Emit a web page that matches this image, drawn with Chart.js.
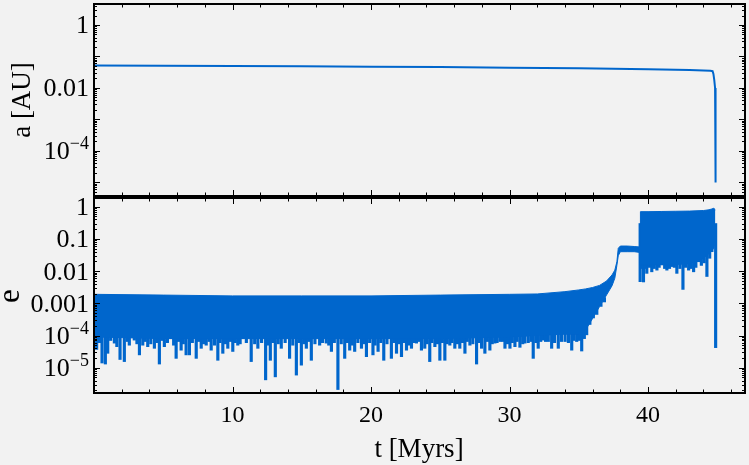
<!DOCTYPE html>
<html>
<head>
<meta charset="utf-8">
<script src="https://cdn.jsdelivr.net/npm/chart.js@4.4.0/dist/chart.umd.min.js"></script>
<style>
  html, body { margin: 0; padding: 0; background: #f2f2f2; }
  #wrap { position: relative; width: 749px; height: 465px; }
  canvas { position: absolute; left: 0; top: 0; }
</style>
</head>
<body>
<div id="wrap">
  <canvas id="topChart" width="749" height="465"></canvas>
  <canvas id="bottomChart" width="749" height="465"></canvas>
</div>
<script>
// semi-major axis a(t)
const A_T = [0, 5, 10, 15, 20, 25, 30, 35, 40, 43, 44, 44.5, 44.66, 44.72, 44.78, 44.84, 44.87, 44.88];
const A_VALUES = [0.052, 0.051, 0.050, 0.049, 0.047, 0.046, 0.044, 0.042, 0.039, 0.037, 0.036, 0.035, 0.034, 0.028, 0.018, 0.010, 0.007, 0.00001];

// eccentricity band: upper / lower envelope of the fast oscillation
const E_T = [0, 5, 10, 15, 20, 25, 30, 32, 34, 35, 35.5, 36, 36.5, 37, 37.4, 37.6, 37.75, 37.85, 38, 38.5, 39, 39.42, 39.45, 40, 41, 42, 43, 44, 44.4, 44.6, 44.75, 44.86];
const E_UPPER = [0.0019, 0.0018, 0.0017, 0.0017, 0.0017, 0.0018, 0.0019, 0.00195, 0.0023, 0.0026, 0.0028, 0.0031, 0.0036, 0.0049, 0.0076, 0.0107, 0.0195, 0.051, 0.06, 0.06, 0.058, 0.056, 0.70, 0.70, 0.71, 0.72, 0.73, 0.76, 0.80, 0.85, 0.89, 0.80];
const E_LOWER = [0.00009, 0.00008, 0.00008, 0.00008, 0.00008, 0.00008, 0.00009, 0.0001, 0.00011, 0.00011, 0.00015, 0.00034, 0.00079, 0.0018, 0.0035, 0.006, 0.015, 0.03, 0.04, 0.04, 0.04, 0.038, 0.016, 0.016, 0.016, 0.016, 0.017, 0.025, 0.035, 0.045, 0.05, 0.1];

// individual minima of e below the band (deep ones first, then the short ragged ones)
const DIP_T = [0.19, 0.58, 0.82, 0.99, 1.47, 1.88, 2.19, 2.55, 2.91, 3.28, 3.52, 3.88, 4.36, 4.72, 5.08, 5.57, 5.93, 6.29, 6.65, 6.89,
  7.38, 7.74, 8.10, 8.46, 8.94, 9.30, 9.66, 10.02, 10.38, 10.75, 11.35, 11.83, 12.39, 12.73, 13.09, 13.52, 14.12, 14.61, 14.97, 15.33,
  15.69, 16.29, 16.77, 17.14, 17.61, 18.10, 18.46, 18.82, 19.31, 19.67, 20.14, 20.51, 20.92, 21.47, 21.84, 22.20, 22.56, 22.92, 23.28, 23.64,
  23.88, 24.24, 24.61, 24.97, 25.33, 25.69, 26.05, 26.41, 26.78, 27.14, 27.62, 27.98, 28.22, 28.58, 28.94, 29.31, 29.67, 30.03, 30.39, 30.75,
  31.11, 31.71, 32.07, 32.44, 32.80, 33.04, 33.52, 34.01, 34.49, 34.85, 35.21, 35.57,
  39.43, 39.67, 39.91, 40.27, 40.64, 41.00, 41.36, 41.72, 42.08, 42.52, 42.93, 43.29, 43.65, 44.25, 44.61, 44.88,
  0.4, 1.2, 1.65, 2.4, 3.1, 3.7, 4.1, 4.55, 4.9, 5.3, 5.75, 6.1, 6.45, 7.1, 7.55, 7.9, 8.3, 8.7, 9.1, 9.5,
  9.85, 10.2, 10.55, 11.0, 11.6, 12.1, 12.55, 12.9, 13.3, 13.8, 14.35, 14.8, 15.15, 15.5, 15.95, 16.5, 16.95, 17.35, 17.85, 18.3,
  18.65, 19.05, 19.5, 19.9, 20.3, 20.7, 21.15, 21.65, 22.05, 22.4, 22.75, 23.1, 23.45, 24.05, 24.4, 24.8, 25.15, 25.5, 25.85, 26.25,
  26.6, 26.95, 27.35, 27.8, 28.4, 28.75, 29.1, 29.5, 29.85, 30.2, 30.55, 30.95, 31.35, 31.55, 31.9, 32.25, 32.6, 33.25, 33.75, 34.25,
  34.65, 35.05, 35.4, 35.8, 36.05, 36.3, 36.6, 36.85,
  39.55, 39.8, 40.1, 40.45, 40.8, 41.2, 41.55, 41.9, 42.3, 42.7, 43.1, 43.45, 43.85, 44.05, 44.45];
const DIP_E = [3.7e-5, 1.4e-5, 1.3e-5, 2.8e-5, 5.8e-5, 1.8e-5, 1.55e-5, 5.0e-5, 7.2e-5, 2.5e-5, 5.0e-5, 4.5e-5, 4.0e-5, 1.3e-5, 4.5e-5, 8.1e-5, 1.95e-5, 3.5e-5, 2.5e-5, 2.5e-5,
  1.95e-5, 4.0e-5, 5.0e-5, 3.5e-5, 1.7e-5, 2.8e-5, 4.0e-5, 3.2e-5, 5.0e-5, 8.1e-5, 1.55e-5, 4.0e-5, 4.2e-6, 1.7e-5, 5.2e-6, 4.0e-5, 1.95e-5, 5.9e-6, 1.2e-5, 4.0e-5,
  1.7e-5, 5.0e-5, 5.8e-5, 3.2e-5, 2.1e-6, 1.95e-5, 3.5e-5, 3.2e-5, 4.0e-5, 2.2e-5, 2.5e-5, 3.2e-5, 1.7e-5, 1.95e-5, 2.8e-5, 2.2e-5, 3.5e-5, 4.0e-5, 5.8e-5, 3.5e-5,
  4.0e-5, 1.55e-5, 4.5e-5, 1.7e-5, 1.7e-5, 5.0e-5, 4.0e-5, 4.0e-5, 2.8e-5, 5.0e-5, 1.3e-5, 4.0e-5, 2.8e-5, 3.5e-5, 5.8e-5, 6.5e-5, 4.0e-5, 4.0e-5, 4.5e-5, 4.3e-5,
  5.8e-5, 1.95e-5, 4.0e-5, 7.2e-5, 6.5e-5, 4.0e-5, 4.0e-5, 6.5e-5, 3.5e-5, 6.5e-5, 3.3e-5, 1.05e-4,
  0.0047, 0.0046, 0.0085, 0.0095, 0.0107, 0.0155, 0.0107, 0.0138, 0.0085, 0.0027, 0.0107, 0.0095, 0.0195, 0.0068, 0.04, 4.2e-5,
  6e-5, 7e-5, 4.5e-5, 6.5e-5, 5.5e-5, 6.5e-5, 5.5e-5, 6e-5, 7e-5, 6e-5, 5e-5, 6.5e-5, 5.5e-5, 6e-5, 6.5e-5, 5.5e-5, 6.5e-5, 5e-5, 6e-5, 5.5e-5,
  6.5e-5, 6e-5, 5.5e-5, 6e-5, 5.5e-5, 6e-5, 5e-5, 6e-5, 5.5e-5, 6e-5, 5e-5, 6e-5, 5.5e-5, 6.5e-5, 5.5e-5, 6e-5, 5e-5, 6e-5, 5.5e-5, 6e-5,
  5e-5, 6e-5, 5.5e-5, 6e-5, 5e-5, 6e-5, 5.5e-5, 6e-5, 5.5e-5, 6e-5, 5e-5, 6e-5, 6.5e-5, 5.5e-5, 6e-5, 5.5e-5, 6e-5, 5.5e-5, 6e-5, 5.5e-5,
  6e-5, 6.5e-5, 5.5e-5, 6e-5, 6.5e-5, 5.5e-5, 6e-5, 6.5e-5, 5.5e-5, 6e-5, 6.5e-5, 5.5e-5, 6e-5, 6.5e-5, 6e-5, 6.5e-5, 6.5e-5, 6e-5, 6.5e-5, 6e-5,
  7e-5, 7e-5, 8e-5, 2.2e-4, 3.5e-4, 4.5e-4, 8e-4, 1.1e-3,
  0.012, 0.012, 0.013, 0.012, 0.013, 0.012, 0.012, 0.013, 0.012, 0.013, 0.012, 0.013, 0.015, 0.018, 0.025];

// ticks
const X_TICKS = [10, 20, 30, 40];
const X_TICK_LABELS = ['10', '20', '30', '40'];
const A_TICKS = [1, 0.01, 1e-4];
const A_TICK_LABELS = ['1', '0.01', '10^\u22124'];
const E_TICKS = [1, 0.1, 0.01, 0.001, 1e-4, 1e-5];
const E_TICK_LABELS = ['1', '0.1', '0.01', '0.001', '10^\u22124', '10^\u22125'];

const BLUE = 'rgb(0,102,204)';
const SERIF = '"Liberation Serif", "DejaVu Serif", serif';

function pts(xs, ys) {
  return xs.map((x, i) => ({ x: x, y: ys[i] }));
}

function drawLabel(ctx, text, xRight, yBase) {
  const parts = text.split('^');
  ctx.textAlign = 'left';
  ctx.textBaseline = 'alphabetic';
  ctx.font = '26px ' + SERIF;
  const w0 = ctx.measureText(parts[0]).width;
  let w1 = 0;
  if (parts[1]) {
    ctx.font = '18px ' + SERIF;
    w1 = ctx.measureText(parts[1]).width;
  }
  const x0 = xRight - w0 - w1;
  ctx.font = '26px ' + SERIF;
  ctx.fillText(parts[0], x0, yBase);
  if (parts[1]) {
    ctx.font = '18px ' + SERIF;
    ctx.fillText(parts[1], x0 + w0, yBase - 10);
  }
}

const frameAxes = {
  id: 'frameAxes',
  afterDraw(chart, args, opts) {
    const { ctx, chartArea: ca, scales: { x, y } } = chart;
    ctx.save();
    ctx.strokeStyle = '#000';
    ctx.fillStyle = '#000';
    ctx.lineWidth = 1;
    ctx.beginPath();
    // x ticks, top and bottom edges, pointing inward
    for (let v = 2; v < x.max; v += 2) {
      const px = Math.round(x.getPixelForValue(v)) + 0.5;
      const len = v % 10 === 0 ? 6 : 3.5;
      ctx.moveTo(px, ca.bottom); ctx.lineTo(px, ca.bottom - len);
      ctx.moveTo(px, ca.top); ctx.lineTo(px, ca.top + len);
    }
    // y ticks, left and right edges
    const lo = Math.floor(Math.log10(y.min)), hi = Math.ceil(Math.log10(y.max));
    for (let d = lo; d <= hi; d++) {
      for (let m = 1; m <= 9; m++) {
        const v = m * Math.pow(10, d);
        if (v < y.min || v > y.max) continue;
        const py = Math.round(y.getPixelForValue(v)) + 0.5;
        const len = m === 1 ? 6 : 3;
        ctx.moveTo(ca.left, py); ctx.lineTo(ca.left + len, py);
        ctx.moveTo(ca.right, py); ctx.lineTo(ca.right - len, py);
      }
    }
    ctx.stroke();

    // frame
    ctx.lineWidth = 2;
    ctx.strokeRect(ca.left, ca.top, ca.right - ca.left, ca.bottom - ca.top);

    // y tick labels
    opts.yTicks.forEach((v, i) => {
      drawLabel(ctx, opts.yLabels[i], 89, y.getPixelForValue(v) + 8.5);
    });

    // x tick labels + title
    if (opts.showX) {
      ctx.font = '24px ' + SERIF;
      ctx.textAlign = 'center';
      ctx.textBaseline = 'alphabetic';
      X_TICKS.forEach((v, i) => {
        ctx.fillText(X_TICK_LABELS[i], x.getPixelForValue(v), 421.5);
      });
      ctx.font = '27px ' + SERIF;
      ctx.fillText('t [Myrs]', 419, 457);
    }

    // y title
    ctx.font = opts.titleFont + 'px ' + SERIF;
    ctx.textAlign = 'center';
    ctx.textBaseline = 'alphabetic';
    ctx.translate(opts.titleX, opts.titleY);
    ctx.rotate(-Math.PI / 2);
    ctx.fillText(opts.title, 0, 0);
    ctx.restore();
  }
};

function baseOptions(padding, yMin, yMax, frameOpts) {
  return {
    responsive: false,
    animation: false,
    events: [],
    layout: { padding: padding },
    plugins: {
      legend: { display: false },
      tooltip: { enabled: false },
      frameAxes: frameOpts
    },
    scales: {
      x: { type: 'linear', min: 0, max: 47, offset: false, display: false },
      y: { type: 'logarithmic', min: yMin, max: yMax, display: false }
    }
  };
}

new Chart(document.getElementById('topChart'), {
  type: 'line',
  data: {
    datasets: [{
      data: pts(A_T, A_VALUES),
      borderColor: BLUE,
      borderWidth: 2,
      pointRadius: 0,
      tension: 0
    }]
  },
  options: baseOptions({ left: 94, right: 4, top: 4, bottom: 269 }, 3.7e-6, 4.64,
    { yTicks: A_TICKS, yLabels: A_TICK_LABELS, showX: false, title: 'a [AU]', titleX: 30, titleY: 100, titleFont: 27 }),
  plugins: [frameAxes]
});

new Chart(document.getElementById('bottomChart'), {
  type: 'line',
  data: {
    datasets: [
      {
        data: pts(E_T, E_UPPER),
        borderColor: BLUE,
        backgroundColor: BLUE,
        borderWidth: 1,
        pointRadius: 0,
        tension: 0,
        fill: '+1'
      },
      {
        data: pts(E_T, E_LOWER),
        borderColor: BLUE,
        borderWidth: 1,
        pointRadius: 0,
        tension: 0,
        fill: false
      },
      {
        type: 'bar',
        data: DIP_T.map((t, i) => ({ x: t, y: [DIP_E[i], t < 39 ? 0.0015 : 0.3] })),
        backgroundColor: BLUE,
        borderWidth: 0,
        barThickness: 2.5
      }
    ]
  },
  options: baseOptions({ left: 94, right: 4, top: 198, bottom: 72 }, 1.64e-6, 1.86,
    { yTicks: E_TICKS, yLabels: E_TICK_LABELS, showX: true, title: 'e', titleX: 19, titleY: 296, titleFont: 31 }),
  plugins: [frameAxes]
});
</script>
</body>
</html>
